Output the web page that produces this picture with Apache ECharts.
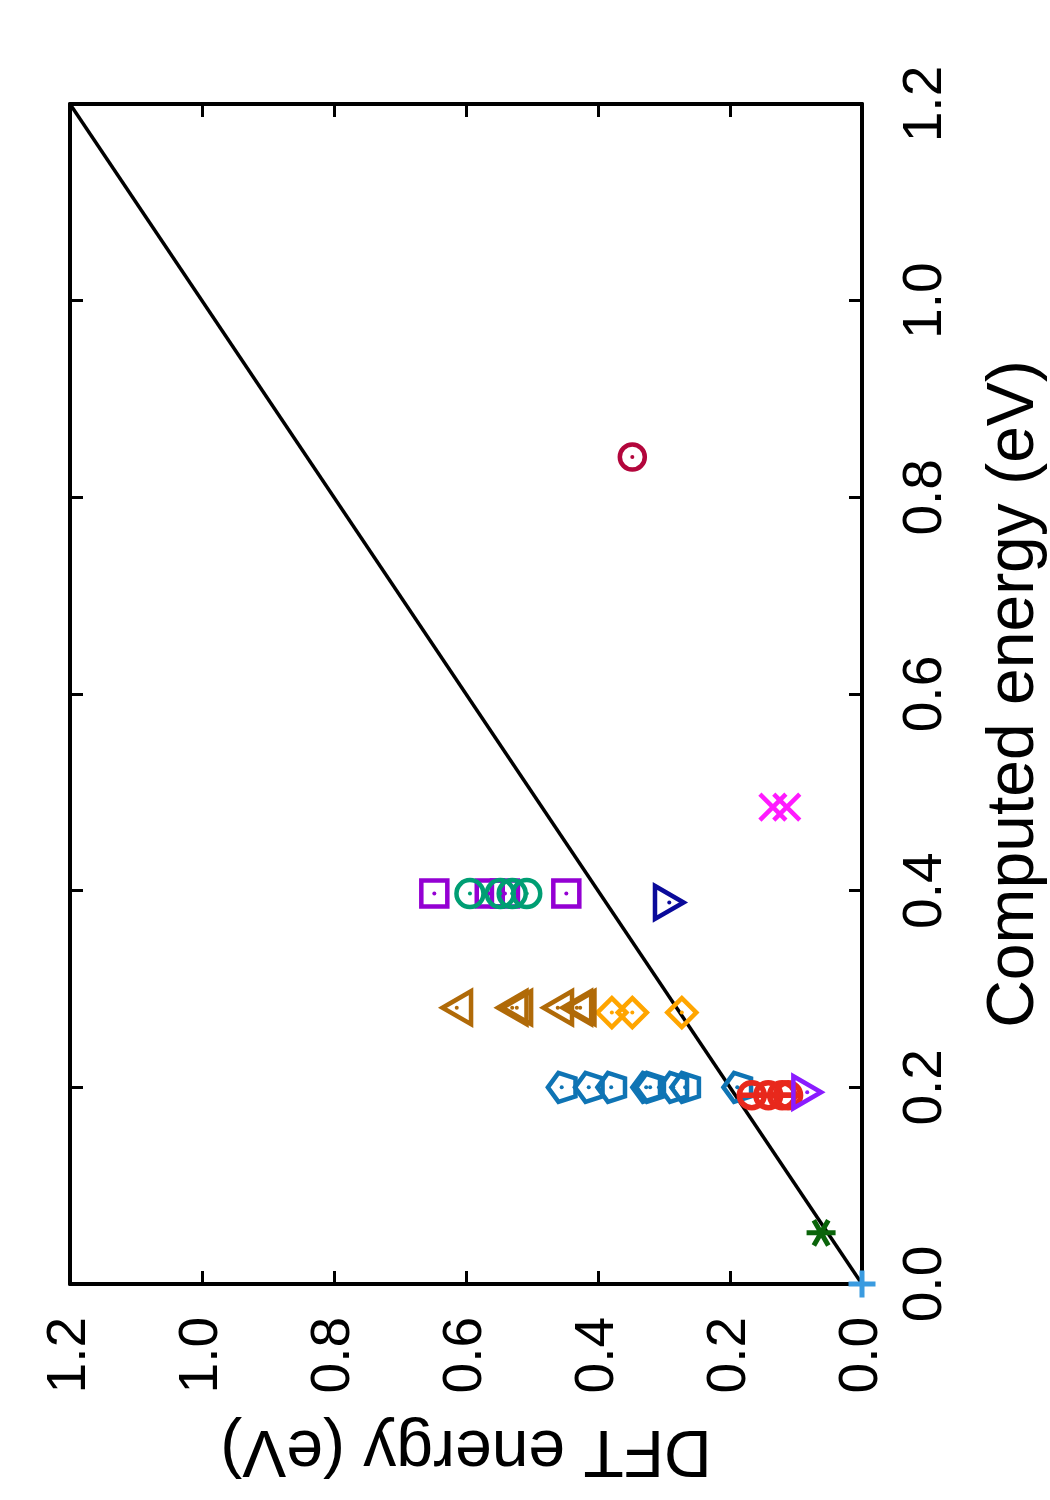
<!DOCTYPE html>
<html>
<head>
<meta charset="utf-8">
<script src="https://cdn.jsdelivr.net/npm/echarts@6/dist/echarts.min.js"></script>
<style>
  html, body { margin: 0; padding: 0; background: #fff; }
  #main { width: 1050px; height: 1500px; }
</style>
</head>
<body>
<div id="main"></div>
<script>
// every point is [DFT energy, computed energy] in eV
const plusPts = [[0.0, 0.0]];
const starPts = [[0.062, 0.052]];
const redPts = [[0.167, 0.192], [0.142, 0.192], [0.121, 0.192], [0.112, 0.192]];
const violetTriPts = [[0.083, 0.195]];
const pentaPts = [[0.455, 0.2], [0.414, 0.2], [0.380, 0.2], [0.327, 0.2], [0.321, 0.2],
                  [0.286, 0.2], [0.268, 0.2], [0.189, 0.2]];
const diamondPts = [[0.379, 0.276], [0.348, 0.276], [0.273, 0.276]];
const brownTriPts = [[0.614, 0.281], [0.530, 0.281], [0.523, 0.281], [0.461, 0.281],
                     [0.432, 0.281], [0.427, 0.281]];
const squarePts = [[0.648, 0.397], [0.564, 0.397], [0.541, 0.397], [0.448, 0.397]];
const greenPts = [[0.594, 0.397], [0.548, 0.397], [0.530, 0.397], [0.508, 0.397]];
const navyTriPts = [[0.292, 0.388]];
const crossPts = [[0.135, 0.485], [0.114, 0.485]];
const dotCirclePts = [[0.348, 0.841]];
const diagonal = [[0, 0], [1.2, 1.2]];

const font = 'Liberation Sans, Arial, Helvetica, sans-serif';

// marker shapes (picture is turned a quarter, so "up" triangles point left)
const triLeft = 'path://M0,10 L17.32,0 L17.32,20 Z';
const triRight = 'path://M17.32,10 L0,0 L0,20 Z';
const pentaLeft = 'path://M-100,0 L-30.9,95.1 L80.9,58.8 L80.9,-58.8 L-30.9,-95.1 Z';
const cross = 'path://M0,0 L10,10 M10,0 L0,10';
const star = 'path://M0,5 L10,5 M2.5,0.67 L7.5,9.33 M7.5,0.67 L2.5,9.33';
const plus = 'path://M5,0 L5,10 M0,5 L10,5';
const thetaCircle = 'path://M0,5 A5,5 0 1,1 10,5 A5,5 0 1,1 0,5 Z M0,5 L10,5';

function markers(data, symbol, size, color, width, dot) {
    let out = [{
        type: 'scatter', data: data, symbol: symbol, symbolSize: size,
        symbolKeepAspect: true, clip: false, z: 3,
        itemStyle: {color: 'rgba(0,0,0,0)', borderColor: color, borderWidth: width, opacity: 1}
    }];
    if (dot) {
        out.push({
            type: 'scatter', data: data, symbol: 'circle', symbolSize: 4,
            clip: false, z: 4, itemStyle: {color: color, opacity: 1}
        });
    }
    return out;
}

const axisBase = {
    type: 'value', min: 0, max: 1.2, interval: 0.2,
    splitLine: {show: false},
    axisLine: {show: true, onZero: false, lineStyle: {color: '#000', width: 4}},
    axisTick: {show: true, inside: true, length: 13, lineStyle: {color: '#000', width: 3}}
};
const labelBase = {
    rotate: 90, fontSize: 55, color: '#000', fontFamily: font,
    formatter: v => v.toFixed(1)
};

let chart = echarts.init(document.getElementById('main'));
chart.setOption({
    backgroundColor: '#fff',
    animation: false,
    grid: {left: 70, right: 188, top: 104, bottom: 216, outerBoundsMode: 'none', containLabel: false},
    xAxis: [
        Object.assign({}, axisBase, {
            position: 'bottom', inverse: true,
            name: 'DFT energy (eV)', nameLocation: 'middle', nameGap: 132, nameRotate: 180,
            nameTextStyle: {fontSize: 66, color: '#000', fontFamily: font},
            axisLabel: Object.assign({}, labelBase, {margin: 33})
        }),
        Object.assign({}, axisBase, {position: 'top', inverse: true, axisLabel: {show: false}})
    ],
    yAxis: [
        Object.assign({}, axisBase, {
            position: 'right',
            name: 'Computed energy (eV)', nameLocation: 'middle', nameGap: 120, nameRotate: 90,
            nameTextStyle: {fontSize: 66, color: '#000', fontFamily: font},
            axisLabel: Object.assign({}, labelBase, {margin: 36})
        }),
        Object.assign({}, axisBase, {position: 'left', axisLabel: {show: false}})
    ],
    series: [
        {type: 'line', data: diagonal, symbol: 'none', z: 2,
         lineStyle: {color: '#000', width: 3.5}},
        ...markers(plusPts, plus, 27, '#3a9be0', 5, false),
        ...markers(starPts, star, 29, '#0a640a', 5, false),
        ...markers(pentaPts, pentaLeft, 29, '#0f74b4', 4.5, true),
        ...markers(diamondPts, 'diamond', 29, '#ffa500', 4.5, true),
        ...markers(brownTriPts, triLeft, 33, '#b06a08', 4.5, true),
        ...markers(squarePts, 'rect', 26, '#9400d3', 4.5, true),
        ...markers(greenPts, 'circle', 27, '#009e73', 4.5, true),
        ...markers(redPts, thetaCircle, 25, '#e8281c', 5.5, false),
        ...markers(violetTriPts, triRight, 32, '#8a1cff', 4.5, true),
        ...markers(navyTriPts, triRight, 33, '#0a0a9a', 4.5, true),
        ...markers(crossPts, cross, 26, '#ff1aff', 4.5, false),
        ...markers(dotCirclePts, 'circle', 25, '#b3063c', 4.5, true)
    ]
});
</script>
</body>
</html>
